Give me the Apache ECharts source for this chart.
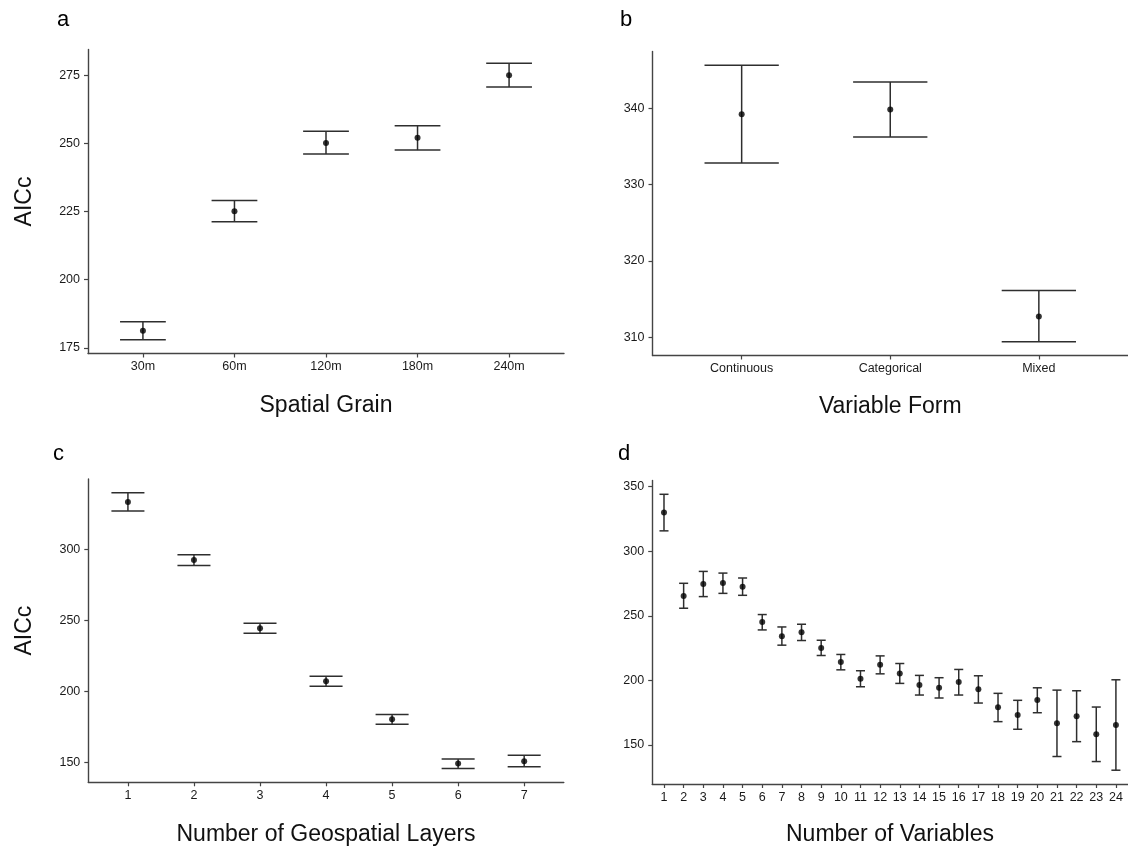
<!DOCTYPE html>
<html>
<head>
<meta charset="utf-8">
<script src="https://cdn.jsdelivr.net/npm/echarts@6/dist/echarts.min.js"></script>
<style>
html,body{margin:0;padding:0;background:#fff;}
#chart{width:1128px;height:848px;}
</style>
</head>
<body>
<div id="chart"></div>
<script>
// ---- Data ----
const aCats = ['30m', '60m', '120m', '180m', '240m'];
const aMean = [181.3, 225.1, 250.1, 252.0, 274.9];
const aLow  = [178.0, 221.2, 246.1, 247.5, 270.6];
const aHigh = [184.6, 229.0, 254.4, 256.4, 279.3];
const aTicks = [175, 200, 225, 250, 275];

const bCats = ['Continuous', 'Categorical', 'Mixed'];
const bMean = [339.2, 339.8, 312.7];
const bLow  = [332.8, 336.2, 309.4];
const bHigh = [345.6, 343.4, 316.1];
const bTicks = [310, 320, 330, 340];

const cCats = ['1', '2', '3', '4', '5', '6', '7'];
const cMean = [333.2, 292.3, 244.4, 207.0, 180.2, 149.1, 150.7];
const cLow  = [326.9, 288.6, 240.9, 203.5, 176.7, 145.6, 146.8];
const cHigh = [339.7, 296.0, 247.9, 210.5, 183.7, 152.3, 154.9];
const cTicks = [150, 200, 250, 300];

const dCats = ['1','2','3','4','5','6','7','8','9','10','11','12','13','14','15','16','17','18','19','20','21','22','23','24'];
const dMean = [330.0,265.4,274.6,275.4,272.6,245.3,234.2,237.3,225.2,214.2,201.3,212.1,205.4,196.4,194.3,198.7,193.1,179.2,173.2,184.8,166.8,172.2,158.3,165.5];
const dLow  = [315.8,255.9,264.9,267.4,265.9,239.1,227.3,230.9,219.3,208.2,195.1,205.1,197.7,188.7,186.4,188.7,182.5,168.1,162.2,175.0,141.1,152.6,137.2,130.5];
const dHigh = [344.1,275.2,284.4,283.1,279.3,251.0,241.4,243.5,231.1,220.1,207.5,219.0,213.1,203.9,202.1,208.5,203.6,190.0,184.6,194.3,192.5,192.0,179.4,200.5];
const dTicks = [150, 200, 250, 300, 350];

const axisTitles = {
  a: 'Spatial Grain', b: 'Variable Form', c: 'Number of Geospatial Layers', d: 'Number of Variables'
};
const yTitle = 'AICc';

// ---- Layout / style ----
const FONT = '"Liberation Sans", Arial, Helvetica, sans-serif';
const AXIS_COLOR = '#444';
const TEXT_COLOR = '#1a1a1a';
const panels = [
  { key: 'a', cats: aCats, mean: aMean, low: aLow, high: aHigh, ticks: aTicks,
    grid: { left: 88, top: 49.5, width: 476, height: 304 }, cap: 0.25, yName: yTitle, xGap: 41, yGap: 52 },
  { key: 'b', cats: bCats, mean: bMean, low: bLow, high: bHigh, ticks: bTicks,
    grid: { left: 652.5, top: 51.5, width: 475.5, height: 304 }, cap: 0.25, yName: '', xGap: 40, yGap: 52 },
  { key: 'c', cats: cCats, mean: cMean, low: cLow, high: cHigh, ticks: cTicks,
    grid: { left: 88.3, top: 479, width: 475.5, height: 303.3 }, cap: 0.25, yName: yTitle, xGap: 41, yGap: 52 },
  { key: 'd', cats: dCats, mean: dMean, low: dLow, high: dHigh, ticks: dTicks,
    grid: { left: 652.2, top: 480.5, width: 475.5, height: 303.5 }, cap: 0.23, yName: '', xGap: 39.5, yGap: 52 }
];

const grids = [], xAxes = [], yAxes = [], series = [];
panels.forEach((p, i) => {
  const n = p.cats.length;
  const lo = Math.min(...p.low), hi = Math.max(...p.high);
  const pad = (hi - lo) * 0.05;
  grids.push(Object.assign({ containLabel: false }, p.grid));
  const xTickVals = p.cats.map((c, k) => k + 1);
  xAxes.push({
    type: 'value', gridIndex: i, min: 1 - 0.6, max: n + 0.6,
    splitLine: { show: false },
    axisLine: { show: true, lineStyle: { color: AXIS_COLOR, width: 1.4 } },
    axisTick: { show: true, length: 4, lineStyle: { color: AXIS_COLOR, width: 1.2 }, customValues: xTickVals },
    axisLabel: { show: true, margin: 7, color: TEXT_COLOR, fontSize: 12.5, fontFamily: FONT,
      customValues: xTickVals, formatter: v => p.cats[Math.round(v) - 1] },
    name: axisTitles[p.key], nameLocation: 'middle', nameGap: p.xGap,
    nameTextStyle: { fontSize: 23, color: '#111', fontFamily: FONT }
  });
  yAxes.push({
    type: 'value', gridIndex: i, min: lo - pad, max: hi + pad,
    splitLine: { show: false },
    axisLine: { show: true, lineStyle: { color: AXIS_COLOR, width: 1.4 } },
    axisTick: { show: true, length: 4, lineStyle: { color: AXIS_COLOR, width: 1.2 }, customValues: p.ticks },
    axisLabel: { show: true, margin: 8, color: TEXT_COLOR, fontSize: 12.5, fontFamily: FONT, customValues: p.ticks },
    name: p.yName, nameLocation: 'middle', nameGap: p.yGap,
    nameTextStyle: { fontSize: 23, color: '#111', fontFamily: FONT }
  });
  const capHalf = p.cap;
  series.push({
    type: 'custom', xAxisIndex: i, yAxisIndex: i, clip: false,
    data: p.cats.map((c, k) => [k + 1, p.low[k], p.high[k]]),
    renderItem: (params, api) => {
      const x = api.value(0), l = api.value(1), h = api.value(2);
      const top = api.coord([x, h]), bot = api.coord([x, l]);
      const xl = api.coord([x - capHalf, h])[0], xr = api.coord([x + capHalf, h])[0];
      const st = { stroke: '#2e2e2e', lineWidth: 1.5 };
      return { type: 'group', children: [
        { type: 'line', shape: { x1: top[0], y1: top[1], x2: bot[0], y2: bot[1] }, style: st },
        { type: 'line', shape: { x1: xl, y1: top[1], x2: xr, y2: top[1] }, style: st },
        { type: 'line', shape: { x1: xl, y1: bot[1], x2: xr, y2: bot[1] }, style: st }
      ]};
    },
    z: 2
  });
  series.push({
    type: 'scatter', xAxisIndex: i, yAxisIndex: i,
    data: p.cats.map((c, k) => [k + 1, p.mean[k]]),
    symbol: 'circle', symbolSize: 6,
    itemStyle: { color: '#000' }, z: 3
  });
});

const tags = [
  { t: 'a', x: 57, y: 21 }, { t: 'b', x: 620, y: 21 },
  { t: 'c', x: 53, y: 455 }, { t: 'd', x: 618, y: 455 }
];

const chart = echarts.init(document.getElementById('chart'), null, { renderer: 'canvas' });
chart.setOption({
  backgroundColor: '#fff',
  animation: false,
  grid: grids, xAxis: xAxes, yAxis: yAxes, series: series,
  graphic: tags.map(g => ({
    type: 'text', left: g.x, top: g.y - 12,
    style: { text: g.t, fontSize: 22, fontFamily: FONT, fill: '#000' }
  }))
});
</script>
</body>
</html>
